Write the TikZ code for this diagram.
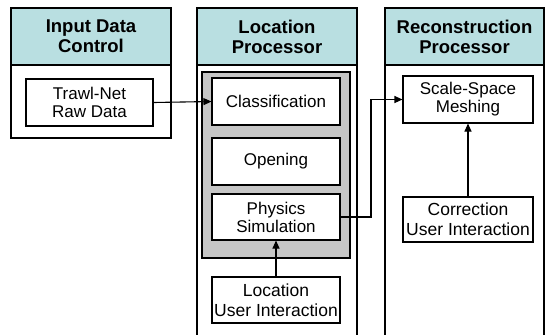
\documentclass[tikz,border=0pt]{standalone}
\usepackage{fontspec}
\setmainfont{Liberation Sans}
\usetikzlibrary{arrows.meta}
\definecolor{headteal}{HTML}{B9DFE1}
\definecolor{panelgray}{HTML}{C6C6C6}
\tikzset{
  head/.style={draw, line width=1.3pt, fill=headteal, inner sep=0pt, align=center,
    font=\fontsize{18.5}{20}\selectfont\bfseries},
  box/.style={draw, line width=1.1pt, fill=white, inner sep=0pt, align=center,
    font=\fontsize{17}{18}\selectfont},
  uibox/.style={box, font=\fontsize{17.5}{20}\selectfont},
  frame/.style={draw, line width=1.3pt},
  arr/.style={line width=1.1pt, -{Triangle[length=8pt,width=7pt]}},
}
\begin{document}
\begin{tikzpicture}[x=1pt,y=-1pt]
\useasboundingbox (0,0) rectangle (547,335);
\clip (0,0) rectangle (547,335);
% column frames
\draw[frame] (11,8) rectangle (171,138);
\draw[frame] (197,8) rectangle (357,345);
\draw[frame] (385,8) rectangle (544,345);
% headers
\node[head, minimum width=160pt, minimum height=57pt] (inhead) at (91,36.5) {Input Data\\Control};
\node[head, minimum width=160pt, minimum height=57pt] (lochead) at (277,36.5) {Location\\Processor};
\node[head, minimum width=159pt, minimum height=57pt] (rechead) at (464.5,36.5) {Reconstruction\\Processor};
% gray panel
\node[draw, line width=1.1pt, fill=panelgray, minimum width=148pt, minimum height=186pt, inner sep=0pt] (panel) at (276,165) {};
% boxes
\node[box, minimum width=127pt, minimum height=47pt] (trawl) at (89.5,102.5) {Trawl-Net\\Raw Data};
\node[box, minimum width=128pt, minimum height=47pt] (class) at (276,101.5) {Classification};
\node[box, minimum width=128pt, minimum height=47pt] (open) at (276,161.5) {Opening};
\node[box, minimum width=128pt, minimum height=46pt] (phys) at (276,217) {Physics\\Simulation};
\node[uibox, minimum width=128pt, minimum height=46pt] (locui) at (276,300) {Location\\User Interaction};
\node[box, minimum width=130pt, minimum height=47pt] (mesh) at (468,99.5) {Scale-Space\\Meshing};
\node[uibox, minimum width=130pt, minimum height=45pt] (corr) at (468,219.5) {Correction\\User Interaction};
% connectors
\draw[arr] (trawl.east) -- (class.west);
\draw[arr] (phys.east) -- (371,217) |- (mesh.west);
\draw[arr] (locui.north) -- (phys.south);
\draw[arr] (corr.north) -- (mesh.south);
\end{tikzpicture}
\end{document}
